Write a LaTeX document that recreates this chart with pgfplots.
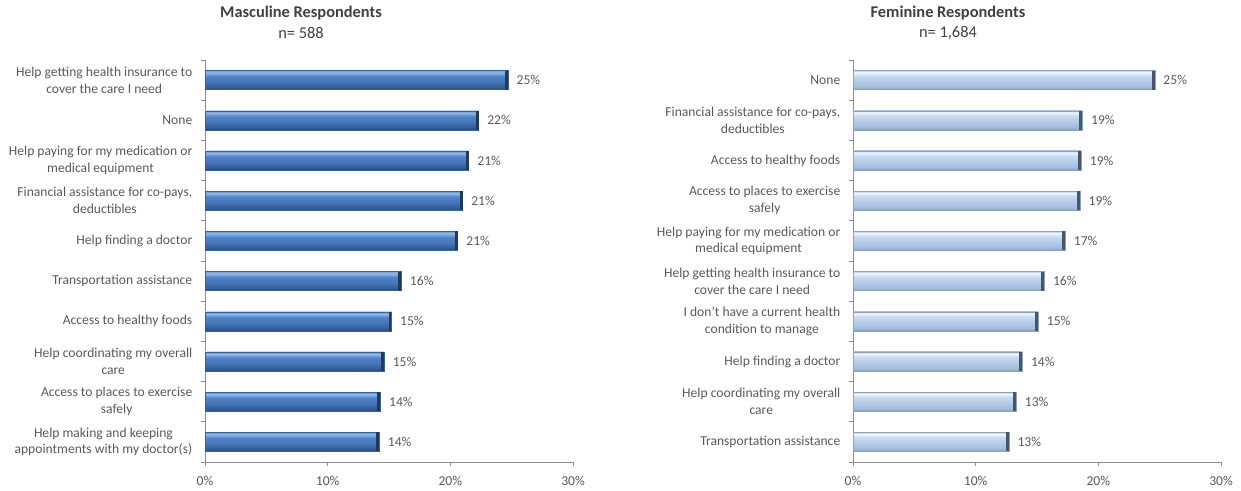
\documentclass[border=0pt]{standalone}
\usepackage{pgfplots}
\pgfplotsset{compat=1.18}
\usepackage{fontspec}
\setmainfont{Carlito}
\definecolor{txt}{HTML}{595959}
\definecolor{ttl}{HTML}{404040}
\definecolor{axl}{HTML}{8C8C8C}
\definecolor{mdraw}{HTML}{35629C}
\definecolor{mcap}{HTML}{1E3A60}
\definecolor{fdraw}{HTML}{8AA3C3}
\definecolor{fcap}{HTML}{46566B}

\pgfdeclareverticalshading{mascshade}{100bp}{%
  color(0bp)=(rgb,255:red,40;green,76;blue,126);
  color(25bp)=(rgb,255:red,40;green,76;blue,126);
  color(31bp)=(rgb,255:red,50;green,92;blue,150);
  color(45bp)=(rgb,255:red,70;green,118;blue,184);
  color(60bp)=(rgb,255:red,80;green,130;blue,198);
  color(66bp)=(rgb,255:red,120;green,164;blue,221);
  color(70bp)=(rgb,255:red,150;green,186;blue,233);
  color(73bp)=(rgb,255:red,112;green,154;blue,212);
  color(75bp)=(rgb,255:red,150;green,184;blue,230);
  color(100bp)=(rgb,255:red,150;green,184;blue,230)}

\pgfdeclareverticalshading{femishade}{100bp}{%
  color(0bp)=(rgb,255:red,134;green,158;blue,190);
  color(25bp)=(rgb,255:red,134;green,158;blue,190);
  color(32bp)=(rgb,255:red,164;green,188;blue,220);
  color(50bp)=(rgb,255:red,184;green,206;blue,233);
  color(62bp)=(rgb,255:red,202;green,220;blue,242);
  color(68bp)=(rgb,255:red,228;green,238;blue,250);
  color(71bp)=(rgb,255:red,244;green,248;blue,253);
  color(73bp)=(rgb,255:red,206;green,222;blue,242);
  color(75bp)=(rgb,255:red,190;green,208;blue,232);
  color(100bp)=(rgb,255:red,190;green,208;blue,232)}

\pgfplotstableread{
x y lab
24.7 9 25
22.3 8 22
21.5 7 21
21.0 6 21
20.6 5 21
16.0 4 16
15.2 3 15
14.6 2 15
14.3 1 14
14.2 0 14
}\masc

\pgfplotstableread{
x y lab
24.6 9 25
18.7 8 19
18.6 7 19
18.5 6 19
17.3 5 17
15.6 4 16
15.1 3 15
13.8 2 14
13.3 1 13
12.7 0 13
}\femi

\pgfplotsset{
  panel/.style={
    scale only axis, width=276pt, height=301.5pt,
    anchor=south west,
    xmin=0, xmax=30, ymin=-0.5, ymax=9.5,
    axis lines*=left,
    axis line style={axl, line width=0.6pt},
    tick align=outside,
    major tick length=3pt,
    tick style={axl, line width=0.6pt},
    xtick={0,10,20,30},
    xticklabels={0\%,10\%,20\%,30\%},
    xticklabel style={font=\fontsize{10.2}{12}\selectfont, text=txt, yshift=-4pt},
    ytick={-0.5,0.5,...,9.5},
    yticklabels={},
    extra y ticks={0,1,2,3,4,5,6,7,8,9},
    extra y tick style={major tick length=0pt},
    yticklabel style={font=\fontsize{10.2}{12.6}\selectfont, text=txt, align=center, xshift=-6pt},
    clip=false,
  },
  vals/.style={xbar, bar shift=0pt, bar width=14.25pt, draw=none, fill=none,
    point meta=explicit symbolic,
    nodes near coords={\pgfplotspointmeta\%},
    every node near coord/.append style={font=\fontsize{10.2}{12}\selectfont, text=txt, anchor=west, xshift=3pt}},
  caps/.style={only marks, mark=|, mark size=7.1pt, line width=2.2pt, color=#1,
    every mark/.append style={xshift=-1.1pt}},
}

\begin{document}
\begin{tikzpicture}[x=1pt,y=1pt]
\path[use as bounding box] (0,0) rectangle (930.75,368.25);

\node[font=\fontsize{12.3}{14}\selectfont\bfseries, text=ttl] at (225.75,358.5) {Masculine Respondents};
\node[font=\fontsize{12.3}{14}\selectfont, text=ttl] at (225.75,343.8) {n= 588};
\node[font=\fontsize{12.3}{14}\selectfont\bfseries, text=ttl] at (711,358.5) {Feminine Respondents};
\node[font=\fontsize{12.3}{14}\selectfont, text=ttl] at (711,343.8) {n= 1,684};

\begin{axis}[panel, at={(153.75pt,21.75pt)},
  extra y tick labels={
    {Help making and keeping\\appointments with my doctor(s)},
    {Access to places to exercise\\safely},
    {Help coordinating my overall\\care},
    {Access to healthy foods},
    {Transportation assistance},
    {Help finding a doctor},
    {Financial assistance for co-pays,\\deductibles},
    {Help paying for my medication or\\medical equipment},
    {None},
    {Help getting health insurance to\\cover the care I need}},
]
\pgfplotsinvokeforeach{0,...,9}{
  \addplot[xbar, bar shift=0pt, bar width=14.25pt, draw=mdraw, line width=0.4pt,
    shading=mascshade, restrict expr to domain={\coordindex}{#1:#1}] table[x=x,y=y] {\masc};
}
\addplot[caps=mcap] table[x=x,y=y] {\masc};
\addplot[vals] table[x=x,y=y,meta=lab] {\masc};
\end{axis}

\begin{axis}[panel, at={(639.75pt,21.75pt)},
  extra y tick labels={
    {Transportation assistance},
    {Help coordinating my overall\\care},
    {Help finding a doctor},
    {I don't have a current health\\condition to manage},
    {Help getting health insurance to\\cover the care I need},
    {Help paying for my medication or\\medical equipment},
    {Access to places to exercise\\safely},
    {Access to healthy foods},
    {Financial assistance for co-pays,\\deductibles},
    {None}},
]
\pgfplotsinvokeforeach{0,...,9}{
  \addplot[xbar, bar shift=0pt, bar width=14.25pt, draw=fdraw, line width=0.4pt,
    shading=femishade, restrict expr to domain={\coordindex}{#1:#1}] table[x=x,y=y] {\femi};
}
\addplot[caps=fcap] table[x=x,y=y] {\femi};
\addplot[vals] table[x=x,y=y,meta=lab] {\femi};
\end{axis}
\end{tikzpicture}
\end{document}
